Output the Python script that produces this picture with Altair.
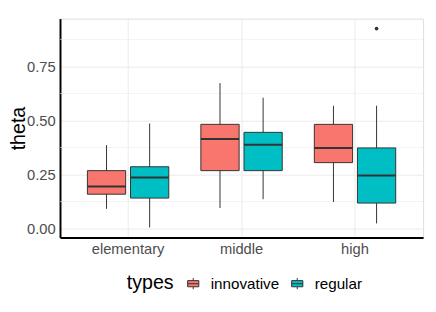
import altair as alt
import pandas as pd

levels = ["elementary", "elementary", "middle", "middle", "high", "high"]
types = ["innovative", "regular", "innovative", "regular", "innovative", "regular"]
lower = [0.091, 0.005, 0.095, 0.136, 0.123, 0.024]
q1 = [0.159, 0.141, 0.268, 0.268, 0.305, 0.118]
median = [0.195, 0.236, 0.414, 0.388, 0.373, 0.245]
q3 = [0.268, 0.286, 0.482, 0.445, 0.482, 0.373]
upper = [0.386, 0.486, 0.673, 0.605, 0.568, 0.568]

outlier_level = ["high"]
outlier_type = ["regular"]
outlier_value = [0.925]

level_order = ["elementary", "middle", "high"]
type_order = ["innovative", "regular"]
type_colors = ["#F8766D", "#00BFC4"]
major_ticks = [0.0, 0.25, 0.5, 0.75]
minor_ticks = [0.125, 0.375, 0.625, 0.875]

df = pd.DataFrame({"level": levels, "types": types, "lower": lower, "q1": q1,
                   "median": median, "q3": q3, "upper": upper})
out_df = pd.DataFrame({"level": outlier_level, "types": outlier_type, "value": outlier_value})
minor_df = pd.DataFrame({"v": minor_ticks})

FONT = "Liberation Sans"

x_enc = alt.X("level:N", sort=level_order,
              scale=alt.Scale(paddingInner=0.24, paddingOuter=0.22),
              axis=alt.Axis(title=None, labelFontSize=15, labelColor="#4D4D4D",
                            labelFont=FONT, domainColor="black", domainWidth=2,
                            ticks=False, grid=True, gridColor="#EBEBEB", gridWidth=1,
                            bandPosition=0.5, labelPadding=4, labelAngle=0))
xo_enc = alt.XOffset("types:N", sort=type_order,
                     scale=alt.Scale(paddingInner=0, paddingOuter=0))
y_scale = alt.Scale(domain=[-0.041, 0.971], nice=False, zero=False)
y_axis = alt.Axis(title="theta", values=major_ticks, format=".2f", labelFontSize=15,
                  labelColor="#4D4D4D", labelFont=FONT, titleFont=FONT,
                  titleFontSize=20, titleFontWeight="normal", titleColor="black",
                  titleX=-32, titleBaseline="bottom",
                  domainColor="black", domainWidth=2, ticks=False, grid=True,
                  gridColor="#EBEBEB", gridWidth=1, labelPadding=5)

minor = alt.Chart(minor_df).mark_rule(color="#EBEBEB", strokeWidth=0.6).encode(
    y=alt.Y("v:Q", scale=y_scale, axis=y_axis)
)

base = alt.Chart(df).encode(x=x_enc, xOffset=xo_enc)

whisker = base.mark_rule(color="#333333", strokeWidth=1).encode(
    y=alt.Y("lower:Q", scale=y_scale, axis=y_axis), y2="upper:Q"
)

box = base.mark_bar(size=39, stroke="#333333", strokeWidth=1).encode(
    y=alt.Y("q1:Q", scale=y_scale, axis=y_axis), y2="q3:Q",
    color=alt.Color("types:N", sort=type_order,
                    scale=alt.Scale(domain=type_order, range=type_colors),
                    legend=alt.Legend(title="types", orient="none", direction="horizontal",
                                      legendX=68, legendY=262, titleOrient="left",
                                      titleFontSize=20, titleFontWeight="normal",
                                      titleColor="black", titleFont=FONT,
                                      labelFontSize=15.5, labelFont=FONT, labelColor="black",
                                      symbolType="M-1,-0.55H1V0.55H-1Z M-1,0H1 M0,-0.55V-1 M0,0.55V1",
                                      symbolSize=130, symbolStrokeColor="#333333",
                                      symbolStrokeWidth=1, symbolOpacity=1,
                                      labelOffset=10, columnPadding=10, titlePadding=12))
)

med = base.mark_tick(size=39, thickness=2, color="#333333", opacity=1).encode(
    y=alt.Y("median:Q", scale=y_scale, axis=y_axis)
)

outl = alt.Chart(out_df).mark_circle(size=14, color="#333333", opacity=1).encode(
    x=alt.X("level:N", sort=level_order), xOffset=alt.XOffset("types:N", sort=type_order),
    y=alt.Y("value:Q", scale=y_scale, axis=y_axis)
)

chart = alt.layer(minor, whisker, box, med, outl).properties(
    width=370, height=223,
    autosize=alt.AutoSizeParams(type="none"),
    padding={"left": 53, "top": 8, "right": 5, "bottom": 65},
).configure_view(stroke=None).configure(font=FONT)

chart.save("out.html", embed_options={"renderer": "svg", "actions": False})
